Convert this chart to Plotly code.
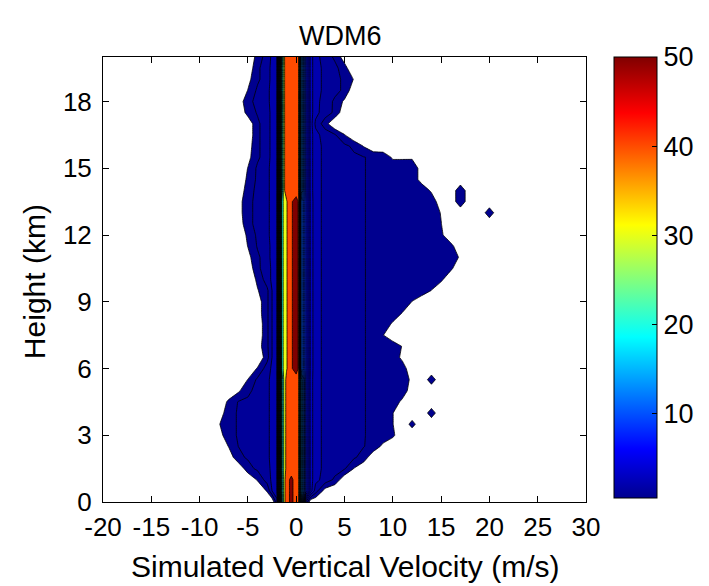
import numpy as np
import plotly.graph_objects as go

# ---------------- data ----------------
VELOCITY = [-9, -8, -7, -6, -5, -4, -3, -2.5,
            -2, -1.5, -1.25, -1, -0.5, 0, 0.25, 0.5, 1, 1.5,
            2, 3, 4, 5, 6, 7, 8, 9, 10, 11, 12, 13, 14, 15, 16, 17, 18, 19, 20, 21]

HEIGHT = [0, 0.5, 1, 1.5, 2, 2.5, 3, 3.5, 4, 4.5, 5, 5.5, 6, 6.5, 7, 7.5, 8, 8.5, 9, 9.5,
          10, 10.5, 11, 11.5, 12, 12.5, 13, 13.5, 14, 14.5, 15, 15.5, 16, 16.5, 17, 17.5,
          18, 18.5, 19, 19.5, 20]

# frequency (%) per height row, columns follow VELOCITY
FREQ = [
    [0, 0, 0, 0, 0, 0, 0, 0, 1.5, 19, 36, 47, 52, 46, 43, 15, 2.0, 0,
     0, 0, 0, 0, 0, 0, 0, 0, 0, 0, 0, 0, 0, 0, 0, 0, 0, 0, 0, 0],
    [0, 0, 0, 0, 0, 0, 0.56, 2.0, 3, 19, 36, 47, 52, 46, 43, 15, 8, 3.5,
     1.5, 0.25, 0, 0, 0, 0, 0, 0, 0, 0, 0, 0, 0, 0, 0, 0, 0, 0, 0, 0],
    [0, 0, 0, 0, 0, 0.56, 1.5, 2.2, 3, 19, 36, 47, 52, 46, 43, 15, 8, 3.5,
     2.3, 1.6, 0.9, 0.1, 0, 0, 0, 0, 0, 0, 0, 0, 0, 0, 0, 0, 0, 0, 0, 0],
    [0, 0, 0, 0, 0.83, 1.2, 1.6, 2.3, 3, 19, 34, 43, 46, 46, 43, 15, 8, 3.5,
     2.3, 1.8, 1.4, 1.1, 0.47, 0, 0, 0, 0, 0, 0, 0, 0, 0, 0, 0, 0, 0, 0, 0],
    [0, 0, 0.1, 0.9, 1.1, 1.3, 1.7, 2.4, 3, 19, 34, 43, 46, 46, 43, 15, 8, 3.5,
     2.3, 1.8, 1.5, 1.3, 1.1, 0.83, 0, 0, 0, 0, 0, 0, 0, 0, 0, 0, 0, 0, 0, 0],
    [0, 0, 0.52, 1.0, 1.15, 1.3, 1.7, 2.4, 3, 19, 34, 43, 46, 46, 43, 15, 8, 3.5,
     2.3, 1.8, 1.5, 1.3, 1.15, 1.02, 0.9, 0.33, 0, 0, 0, 0, 0, 0, 0, 0, 0, 0, 0, 0],
    [0, 0.23, 0.9, 1.05, 1.15, 1.3, 1.7, 2.4, 3, 19, 34, 43, 46, 46, 43, 15, 8, 3.5,
     2.3, 1.8, 1.5, 1.3, 1.15, 1.02, 0.95, 0.9, 0.63, 0, 0, 0, 0, 0, 0, 0, 0, 0, 0, 0],
    [0, 0.46, 0.9, 1.05, 1.15, 1.3, 1.7, 2.4, 3, 19, 34, 43, 46, 46, 43, 15, 8, 3.5,
     2.3, 1.8, 1.5, 1.3, 1.15, 1.02, 0.95, 0.9, 0.52, 0, 0.75, 0, 0, 0, 0, 0, 0, 0, 0, 0],
    [0, 0.1, 0.9, 1.05, 1.15, 1.3, 1.7, 2.4, 3, 19, 34, 43, 46, 46, 43, 15, 8, 3.5,
     2.3, 1.8, 1.5, 1.3, 1.15, 1.02, 0.95, 0.9, 0.52, 0, 0, 0, 0.85, 0, 0, 0, 0, 0, 0, 0],
    [0, 0, 0.63, 1.05, 1.15, 1.3, 1.7, 2.4, 3, 19, 34, 43, 46, 46, 43, 15, 8, 3.5,
     2.3, 1.8, 1.5, 1.3, 1.15, 1.02, 0.95, 0.9, 0.9, 0.33, 0, 0, 0, 0, 0, 0, 0, 0, 0, 0],
    [0, 0, 0, 0.4, 0.9, 1.3, 1.7, 2.4, 3, 19, 34, 43, 46, 46, 43, 15, 8, 3.5,
     2.3, 1.8, 1.5, 1.3, 1.15, 1.02, 0.95, 0.9, 0.9, 0.9, 0.1, 0, 0, 0, 0, 0, 0, 0, 0, 0],
    [0, 0, 0, 0, 0.52, 1.2, 1.7, 2.4, 3, 19, 34, 43, 46, 46, 43, 15, 8, 3.5,
     2.3, 1.8, 1.5, 1.3, 1.15, 1.02, 0.95, 0.9, 0.9, 0.9, 0.33, 0, 0.85, 0, 0, 0, 0, 0, 0, 0],
    [0, 0, 0, 0, 0, 0.56, 1.5, 2.2, 3, 20, 36.7, 39, 49, 54, 49, 12, 8, 3.6,
     2.3, 1.8, 1.5, 1.3, 1.15, 1.02, 0.95, 0.9, 0.88, 0.83, 0, 0, 0, 0, 0, 0, 0, 0, 0, 0],
    [0, 0, 0, 0, 0, 0, 0.83, 2.0, 3, 20, 36.7, 39, 49, 54, 49, 12, 8, 3.6,
     2.3, 1.8, 1.5, 1.3, 1.15, 1.02, 0.95, 0.9, 0.9, 0.33, 0, 0, 0, 0, 0, 0, 0, 0, 0, 0],
    [0, 0, 0, 0, 0, 0.23, 0.9, 2.0, 3, 20, 36.7, 39, 49, 54, 49, 12, 8, 3.6,
     2.3, 1.8, 1.5, 1.3, 1.15, 1.02, 0.95, 0.9, 0.9, 0.46, 0, 0, 0, 0, 0, 0, 0, 0, 0, 0],
    [0, 0, 0, 0, 0, 0.1, 0.9, 2.0, 3, 20, 36.7, 39, 49, 54, 49, 12, 8, 3.6,
     2.3, 1.8, 1.5, 1.3, 1.15, 1.02, 0.95, 0.52, 0, 0, 0, 0, 0, 0, 0, 0, 0, 0, 0, 0],
    [0, 0, 0, 0, 0, 0.1, 0.9, 2.0, 3, 20, 36.7, 39, 49, 54, 49, 12, 8, 3.6,
     2.3, 1.8, 1.5, 1.3, 1.15, 1.02, 0.95, 0.9, 0.4, 0, 0, 0, 0, 0, 0, 0, 0, 0, 0, 0],
    [0, 0, 0, 0, 0, 0.23, 0.9, 2.0, 3, 20, 36.7, 39, 49, 54, 49, 12, 8, 3.6,
     2.3, 1.8, 1.5, 1.3, 1.15, 1.02, 0.95, 0.9, 0.9, 0.48, 0, 0, 0, 0, 0, 0, 0, 0, 0, 0],
    [0, 0, 0, 0, 0, 0.23, 0.9, 2.0, 3, 20, 36.7, 39, 49, 54, 49, 12, 8, 3.6,
     2.3, 1.8, 1.5, 1.3, 1.15, 1.02, 0.95, 0.9, 0.88, 0.9, 0.48, 0, 0, 0, 0, 0, 0, 0, 0, 0],
    [0, 0, 0, 0, 0, 0.46, 0.9, 2.0, 3, 20, 36.7, 39, 49, 54, 49, 12, 8, 3.6,
     2.3, 1.8, 1.5, 1.3, 1.15, 1.02, 0.95, 0.9, 0.88, 0.88, 0.88, 0.9, 0.48, 0, 0, 0, 0, 0, 0, 0],
    [0, 0, 0, 0, 0, 0.63, 1.5, 2.2, 3, 20, 36.7, 39, 49, 54, 49, 12, 8, 3.6,
     2.3, 1.8, 1.5, 1.3, 1.15, 1.02, 0.95, 0.9, 0.88, 0.88, 0.88, 0.88, 0.88, 0.63, 0, 0, 0, 0, 0, 0],
    [0, 0, 0, 0, 0.1, 0.9, 1.5, 2.2, 3, 20, 36.7, 39, 49, 54, 49, 12, 8, 3.6,
     2.3, 1.8, 1.5, 1.3, 1.15, 1.02, 0.95, 0.9, 0.88, 0.88, 0.88, 0.88, 0.88, 0.88, 0.63, 0, 0, 0, 0, 0],
    [0, 0, 0, 0, 0.33, 0.9, 1.6, 2.3, 3, 20, 36.7, 39, 49, 54, 49, 12, 8, 3.6,
     2.3, 1.8, 1.5, 1.3, 1.15, 1.02, 0.95, 0.9, 0.88, 0.88, 0.88, 0.88, 0.88, 0.88, 0.9, 0.4, 0, 0, 0, 0],
    [0, 0, 0, 0, 0.52, 1.1, 1.6, 2.3, 3, 20, 36.7, 39, 49, 54, 49, 12, 8, 3.6,
     2.3, 1.8, 1.5, 1.3, 1.15, 1.02, 0.95, 0.9, 0.88, 0.88, 0.88, 0.88, 0.88, 0.88, 0.71, 0, 0, 0, 0, 0],
    [0, 0, 0, 0, 0.63, 1.2, 1.7, 2.4, 3, 20, 36.7, 39, 49, 54, 49, 12, 8, 3.6,
     2.3, 1.8, 1.5, 1.3, 1.15, 1.02, 0.95, 0.9, 0.88, 0.88, 0.88, 0.88, 0.88, 0.63, 0, 0, 0, 0, 0, 0],
    [0, 0, 0, 0.1, 0.9, 1.2, 1.7, 2.4, 3, 20, 36.7, 39, 49, 54, 49, 12, 8, 3.6,
     2.3, 1.8, 1.5, 1.3, 1.15, 1.02, 0.95, 0.9, 0.88, 0.88, 0.88, 0.88, 0.88, 0.52, 0, 0, 0, 0, 0, 0],
    [0, 0, 0, 0.23, 0.9, 1.2, 1.7, 2.4, 3, 20, 36.7, 39, 49, 54, 49, 12, 8, 3.6,
     2.3, 1.8, 1.5, 1.3, 1.15, 1.02, 0.95, 0.9, 0.88, 0.88, 0.88, 0.88, 0.9, 0.46, 0, 0, 0, 0, 0.9, 0],
    [0, 0, 0, 0.23, 0.9, 1.2, 1.7, 2.4, 3, 20, 36.7, 39, 49, 54, 49, 12, 8, 3.6,
     2.3, 1.8, 1.5, 1.3, 1.15, 1.02, 0.95, 0.9, 0.88, 0.88, 0.88, 0.88, 0.9, 0.1, 0, 0.98, 0, 0, 0, 0],
    [0, 0, 0, 0, 0.83, 1.2, 1.7, 2.4, 3, 19, 39, 44, 45, 45, 42, 14, 8, 3.5,
     2.3, 1.8, 1.5, 1.3, 1.15, 1.02, 0.95, 0.9, 0.88, 0.88, 0.88, 0.9, 0.4, 0, 0, 0.98, 0, 0, 0, 0],
    [0, 0, 0, 0, 0.63, 1.2, 1.7, 2.4, 3, 19, 39, 44, 45, 45, 42, 14, 8, 3.5,
     2.3, 1.8, 1.5, 1.3, 1.15, 1.02, 0.95, 0.9, 0.88, 0.88, 0.9, 0.23, 0, 0, 0, 0, 0, 0, 0, 0],
    [0, 0, 0, 0, 0.52, 1.2, 1.7, 2.4, 3, 19, 39, 44, 45, 45, 42, 14, 8, 3.5,
     2.3, 1.8, 1.5, 1.3, 1.15, 1.02, 0.95, 0.9, 0.88, 0.88, 0.9, 0.23, 0, 0, 0, 0, 0, 0, 0, 0],
    [0, 0, 0, 0, 0.33, 0.9, 1.6, 2.3, 3, 19, 39, 44, 45, 45, 42, 14, 8, 3.5,
     2.3, 1.8, 1.5, 1.3, 1.15, 1.02, 0.95, 0.9, 0.4, 0.4, 0.4, 0, 0, 0, 0, 0, 0, 0, 0, 0],
    [0, 0, 0, 0, 0.23, 0.9, 1.6, 2.3, 3, 19, 39, 44, 45, 45, 42, 14, 8, 3.5,
     2.3, 1.8, 1.5, 1.2, 0.9, 0.46, 0, 0, 0, 0, 0, 0, 0, 0, 0, 0, 0, 0, 0, 0],
    [0, 0, 0, 0, 0.1, 0.9, 1.6, 2.3, 3, 19, 39, 44, 45, 45, 42, 14, 8, 3.5,
     2.3, 1.6, 1.1, 0.52, 0, 0, 0, 0, 0, 0, 0, 0, 0, 0, 0, 0, 0, 0, 0, 0],
    [0, 0, 0, 0, 0.1, 0.9, 1.6, 2.3, 3, 19, 39, 44, 45, 45, 42, 14, 8, 3.5,
     1.8, 0.71, 0, 0, 0, 0, 0, 0, 0, 0, 0, 0, 0, 0, 0, 0, 0, 0, 0, 0],
    [0, 0, 0, 0, 0.71, 1.1, 1.6, 2.3, 3, 19, 39, 44, 45, 45, 42, 14, 8, 3.5,
     2.3, 1.5, 0.9, 0.1, 0, 0, 0, 0, 0, 0, 0, 0, 0, 0, 0, 0, 0, 0, 0, 0],
    [0, 0, 0, 0.1, 0.9, 1.2, 1.7, 2.4, 3, 19, 39, 44, 45, 45, 42, 14, 8, 3.5,
     2.3, 1.6, 0.9, 0.4, 0, 0, 0, 0, 0, 0, 0, 0, 0, 0, 0, 0, 0, 0, 0, 0],
    [0, 0, 0, 0, 0.52, 1.2, 1.7, 2.4, 3, 19, 39, 44, 45, 45, 42, 14, 8, 3.5,
     2.3, 1.8, 1.3, 0.9, 0.1, 0, 0, 0, 0, 0, 0, 0, 0, 0, 0, 0, 0, 0, 0, 0],
    [0, 0, 0, 0, 0.33, 0.9, 1.6, 2.3, 3, 19, 39, 44, 45, 45, 42, 14, 8, 3.5,
     2.3, 1.8, 1.3, 0.9, 0.46, 0, 0, 0, 0, 0, 0, 0, 0, 0, 0, 0, 0, 0, 0, 0],
    [0, 0, 0, 0, 0.1, 0.9, 1.6, 2.3, 3, 19, 39, 44, 45, 45, 42, 14, 8, 3.5,
     2.3, 1.8, 1.3, 0.71, 0, 0, 0, 0, 0, 0, 0, 0, 0, 0, 0, 0, 0, 0, 0, 0],
    [0, 0, 0, 0, 0, 0.71, 1.5, 2.2, 3, 19, 39, 44, 45, 45, 42, 14, 8, 3.5,
     2.3, 1.6, 0.9, 0.23, 0, 0, 0, 0, 0, 0, 0, 0, 0, 0, 0, 0, 0, 0, 0, 0],
]

LEVELS = [0.5, 1, 2, 3, 4, 5, 6, 7, 8, 9, 10, 11, 12, 13, 14, 15, 16, 17, 18, 19, 20, 30, 40, 50]
C_MIN, C_MAX = 0.5, 50
CBAR_TICKS = [10, 20, 30, 40, 50]
X_TICKS = [-20, -15, -10, -5, 0, 5, 10, 15, 20, 25, 30]
Y_TICKS = [0, 3, 6, 9, 12, 15, 18]

for r in FREQ:
    assert len(r) == len(VELOCITY), len(r)
assert len(FREQ) == len(HEIGHT)

# ---------------- styling helpers (MATLAB-like jet) ----------------
JET_POS = [0.0, 7 / 63, 23 / 63, 39 / 63, 55 / 63, 1.0]
JET_RGB = [(0, 0, 143), (0, 0, 255), (0, 255, 255), (255, 255, 0), (255, 0, 0), (128, 0, 0)]
JET = [[p, 'rgb(%d,%d,%d)' % c] for p, c in zip(JET_POS, JET_RGB)]


def jet(t):
    t = min(max(t, 0.0), 1.0)
    rgb = [np.interp(t, JET_POS, [c[i] for c in JET_RGB]) for i in range(3)]
    return 'rgb(%d,%d,%d)' % tuple(round(v) for v in rgb)


N = len(LEVELS)
z = np.array(FREQ, dtype=float)
# map the (non-uniform) contour levels onto an index scale so plotly can use them
zt = np.interp(z, [0] + LEVELS + [60], list(range(-1, N + 1)))

fill_scale = [[0.0, 'rgb(255,255,255)']]
for k, lv in enumerate(LEVELS):
    fill_scale.append([(k + 1) / N, jet((lv - C_MIN) / (C_MAX - C_MIN))])

FONT = 'Liberation Sans, Arial, sans-serif'

fig = go.Figure()
fig.add_trace(go.Contour(
    x=VELOCITY, y=HEIGHT, z=zt,
    contours=dict(start=0, end=N - 1, size=1, coloring='fill', showlines=True),
    line=dict(color='black', width=0.8, smoothing=0),
    colorscale=fill_scale, zmin=-1, zmax=N, showscale=False, hoverinfo='skip'))

fig.add_trace(go.Scatter(
    x=[None, None], y=[None, None], mode='markers', hoverinfo='skip', showlegend=False,
    marker=dict(color=[C_MIN, C_MAX], colorscale=JET, cmin=C_MIN, cmax=C_MAX, showscale=True,
                colorbar=dict(x=1.058, xanchor='left', y=1.0, yanchor='top', xpad=0, ypad=0,
                              len=0.991, lenmode='fraction', thickness=43, thicknessmode='pixels',
                              outlinecolor='black', outlinewidth=1,
                              tickvals=CBAR_TICKS, ticktext=[str(t) for t in CBAR_TICKS],
                              ticks='inside', ticklen=5, tickcolor='black',
                              tickfont=dict(family=FONT, size=27, color='black')))))

axis_common = dict(showline=True, linecolor='black', linewidth=1, mirror='allticks',
                   ticks='inside', ticklen=6, tickcolor='black', showgrid=False, zeroline=False,
                   tickfont=dict(family=FONT, size=26, color='black'))

fig.update_layout(
    width=709, height=586,
    margin=dict(l=103, r=123, t=57, b=84, autoexpand=False),
    paper_bgcolor='white', plot_bgcolor='white',
    showlegend=False,
    title=dict(text='WDM6', x=0.48, xanchor='center', y=1 - 36 / 586, yanchor='middle',
               font=dict(family=FONT, size=27, color='black')),
    xaxis=dict(range=[-20, 30], tickvals=X_TICKS, ticktext=[str(t) for t in X_TICKS],
               ticklabelstandoff=2, **axis_common),
    yaxis=dict(range=[0, 20], tickvals=Y_TICKS, ticktext=[str(t) for t in Y_TICKS],
               ticklabelstandoff=5, **axis_common),
    annotations=[
        dict(text='Simulated Vertical Velocity (m/s)', xref='paper', yref='paper', x=0.5, y=-0.144,
             xanchor='center', yanchor='middle', showarrow=False,
             font=dict(family=FONT, size=30, color='black')),
        dict(text='Height (km)', xref='paper', yref='paper', x=-0.142, y=0.495, textangle=-90,
             xanchor='center', yanchor='middle', showarrow=False,
             font=dict(family=FONT, size=30, color='black')),
    ],
)

fig.write_html('out.html')
